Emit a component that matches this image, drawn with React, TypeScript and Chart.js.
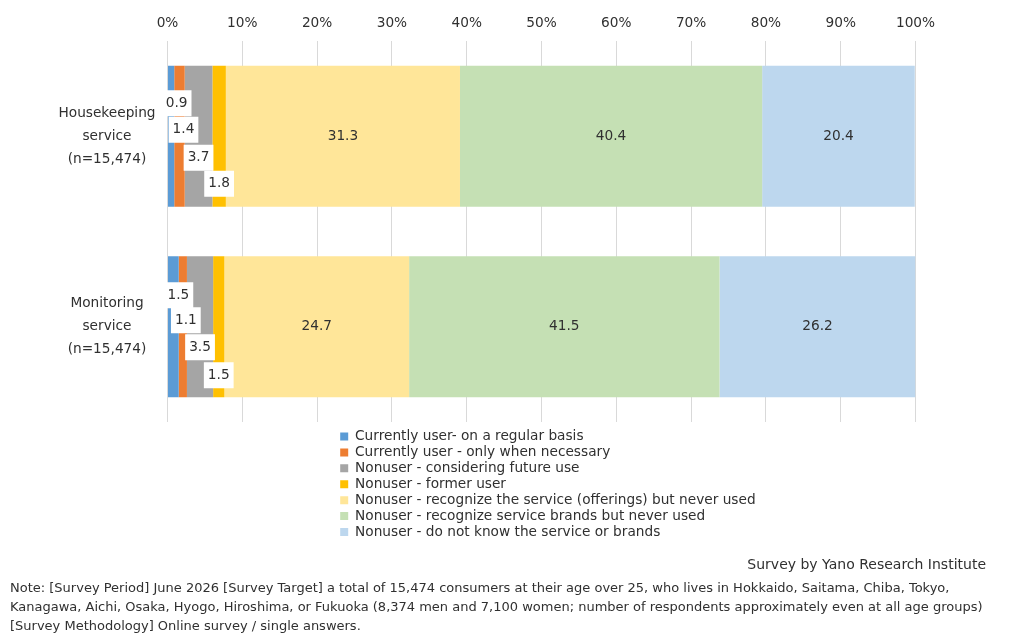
import { useEffect, useRef } from 'react';
import Chart from 'chart.js/auto';

const FONT = '"DejaVu Sans", sans-serif';
const SIZE = 13.7;
const TEXT = '#303030';

const categories = [['Housekeeping', 'service', '(n=15,474)'], ['Monitoring', 'service', '(n=15,474)']];
const seriesNames = [
  'Currently user- on a regular basis',
  'Currently user - only when necessary',
  'Nonuser - considering future use',
  'Nonuser - former user',
  'Nonuser - recognize the service (offerings) but never used',
  'Nonuser - recognize service brands but never used',
  'Nonuser - do not know the service or brands',
];
const regularUse = [0.9, 1.5];
const whenNecessary = [1.4, 1.1];
const consideringUse = [3.7, 3.5];
const formerUser = [1.8, 1.5];
const recognizeOfferings = [31.3, 24.7];
const recognizeBrands = [40.4, 41.5];
const doNotKnow = [20.4, 26.2];
const seriesValues = [regularUse, whenNecessary, consideringUse, formerUser, recognizeOfferings, recognizeBrands, doNotKnow];
const seriesColors = ['#5B9BD5', '#ED7D31', '#A5A5A5', '#FFC000', '#FFE699', '#C5E0B4', '#BDD7EE'];

const sourceLine = 'Survey by Yano Research Institute';
const noteLines = [
  'Note: [Survey Period] June 2026 [Survey Target] a total of 15,474 consumers at their age over 25, who lives in Hokkaido, Saitama, Chiba, Tokyo,',
  'Kanagawa, Aichi, Osaka, Hyogo, Hiroshima, or Fukuoka (8,374 men and 7,100 women; number of respondents approximately even at all age groups)',
  '[Survey Methodology] Online survey / single answers.',
];

// the small segments have their labels pulled apart by hand, [dx, dy] per bar
const labelNudges: Record<number, number[][]> = {
  0: [[5.5, -33], [5, -31.5]],
  1: [[4, -6.5], [3, -6.5]],
  2: [[0, 21.5], [0, 20.5]],
  3: [[0, 47.5], [0, 48.5]],
};

const segmentLabels = {
  id: 'segmentLabels',
  afterDatasetsDraw(chart: Chart) {
    const ctx = chart.ctx;
    ctx.save();
    ctx.font = `${SIZE}px ${FONT}`;
    ctx.textAlign = 'center';
    ctx.textBaseline = 'middle';
    chart.data.datasets.forEach((ds, i) => {
      chart.getDatasetMeta(i).data.forEach((bar, j) => {
        const text = String(ds.data[j]);
        const nudge = labelNudges[i]?.[j];
        const center = (bar as any).getCenterPoint();
        const x = center.x + (nudge ? nudge[0] : 0);
        const y = center.y + (nudge ? nudge[1] : 0);
        if (nudge) {
          const w = ctx.measureText(text).width + 8;
          ctx.fillStyle = '#fff';
          ctx.fillRect(x - w / 2, y - 13, w, 26);
        }
        ctx.fillStyle = TEXT;
        ctx.fillText(text, x, y);
      });
    });
    ctx.restore();
  },
};

// legend sits below the plot, left aligned, which the built in positions can't do
const moveLegend = {
  id: 'moveLegend',
  afterLayout(chart: Chart) {
    const legend = chart.legend as any;
    const w = legend.width;
    const h = legend.height;
    legend.left = 338;
    legend.right = 338 + w;
    legend.top = 427.5;
    legend.bottom = 427.5 + h;
  },
};

export default function App() {
  const chartRef = useRef<HTMLCanvasElement>(null);

  useEffect(() => {
    if (!chartRef.current) return;
    const chart = new Chart(chartRef.current, {
      type: 'bar',
      data: {
        labels: categories as any,
        datasets: seriesNames.map((name, i) => ({
          label: name,
          data: seriesValues[i],
          backgroundColor: seriesColors[i],
          categoryPercentage: 1,
          barPercentage: 0.74,
        })),
      },
      options: {
        indexAxis: 'y',
        responsive: false,
        animation: false,
        layout: { padding: { left: 0, top: 0, right: 111.5, bottom: 216 } },
        scales: {
          x: {
            position: 'top',
            stacked: true,
            min: 0,
            max: 100,
            afterFit: (scale) => { scale.height = 41; },
            border: { display: false },
            grid: { color: '#D9D9D9', drawTicks: false },
            ticks: {
              stepSize: 10,
              padding: 9,
              maxRotation: 0,
              color: TEXT,
              font: { family: FONT, size: SIZE },
              callback: (v) => `${v}%`,
            },
          },
          y: {
            stacked: true,
            // tall three line labels would otherwise push the plot top down
            afterFit: (scale) => {
              scale.width = 167.5;
              scale.paddingTop = 0;
              scale.paddingBottom = 0;
            },
            border: { display: false },
            grid: { display: false, drawTicks: false },
            ticks: {
              crossAlign: 'center',
              padding: 12,
              color: TEXT,
              font: { family: FONT, size: SIZE, lineHeight: 23 / SIZE },
            },
          },
        },
        plugins: {
          tooltip: { enabled: false },
          legend: {
            position: 'chartArea',
            align: 'start',
            labels: {
              boxWidth: 8,
              boxHeight: 8,
              padding: 2.2,
              color: TEXT,
              font: { family: FONT, size: SIZE },
            },
          },
        },
      },
      plugins: [segmentLabels, moveLegend],
    });
    return () => chart.destroy();
  }, []);

  return (
    <div style={{ position: 'absolute', left: 0, top: 0, width: 1027, height: 638, background: '#fff', fontFamily: FONT, color: TEXT, fontSize: 13 }}>
      <canvas ref={chartRef} width={1027} height={638} style={{ display: 'block' }} />
      <div style={{ position: 'absolute', right: 41, top: 555, fontSize: 14, lineHeight: '18px', whiteSpace: 'nowrap' }}>{sourceLine}</div>
      <div style={{ position: 'absolute', left: 10, top: 578, lineHeight: '19px', whiteSpace: 'nowrap' }}>
        {noteLines.map((line) => <div key={line}>{line}</div>)}
      </div>
    </div>
  );
}
